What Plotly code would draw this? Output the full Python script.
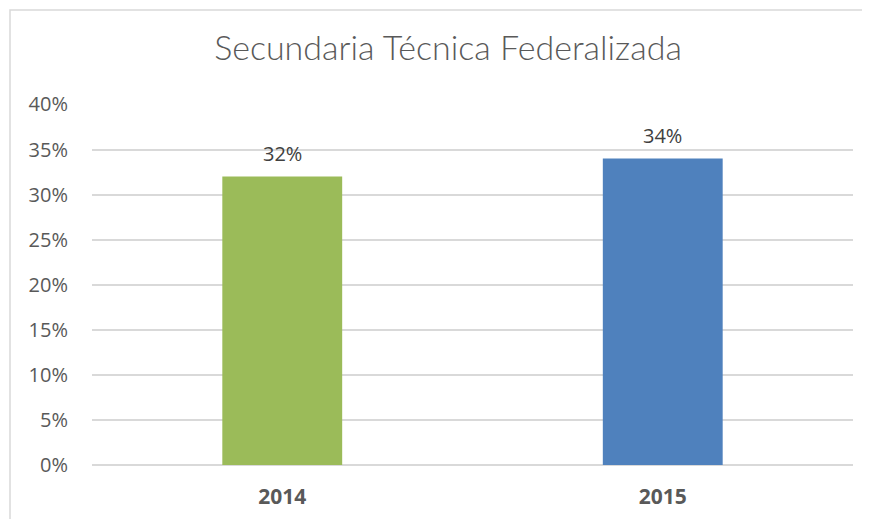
import plotly.graph_objects as go

categories = ["2014", "2015"]
values = [0.32, 0.34]
colors = ["#9BBB59", "#4F81BD"]
tick_vals = [0, 0.05, 0.10, 0.15, 0.20, 0.25, 0.30, 0.35, 0.40]
tick_text = ["0%", "5%", "10%", "15%", "20%", "25%", "30%", "35%", "40%"]
title_text = "Secundaria Técnica Federalizada"

# page body has an 8px margin, so the figure is sized/offset accordingly
W, H = 862, 511
L, R, T, B = 84, 17, 96, 54
pw, ph = W - L - R, H - T - B

fig = go.Figure(go.Bar(
    x=categories, y=values,
    marker=dict(color=colors, line=dict(width=0)),
    width=0.315,
    hoverinfo="x+y",
))

# data labels: positioned at each category index (category axis) and bar value
for i, v in enumerate(values):
    fig.add_annotation(x=i, y=v, text=f"{v:.0%}", showarrow=False,
                       yanchor="middle", yshift=23,
                       font=dict(family="Open Sans, sans-serif", size=20, color="#404040"))

fig.update_layout(
    width=W, height=H,
    margin=dict(l=L, r=R, t=T, b=B),
    paper_bgcolor="white", plot_bgcolor="white",
    showlegend=False,
    title=dict(text=title_text, x=440 / W, xanchor="center", y=1 - 40 / H, yanchor="middle",
               font=dict(family="Lato, sans-serif", size=34, color="#595959", weight=300)),
    xaxis=dict(type="category", range=[-0.5, len(categories) - 0.5], automargin=False,
               showgrid=False, showline=False, ticks="", ticklabelstandoff=17,
               tickfont=dict(family="Open Sans, sans-serif", size=21, color="#595959", weight="bold")),
    yaxis=dict(range=[0, 0.4005], tickvals=tick_vals, ticktext=tick_text, automargin=False,
               showgrid=True, gridcolor="#D9D9D9", gridwidth=1.8,
               zeroline=True, zerolinecolor="#D9D9D9", zerolinewidth=1.8,
               showline=False, ticks="", ticklabelstandoff=23,
               tickfont=dict(family="Open Sans, sans-serif", size=20, color="#595959")),
    shapes=[dict(type="rect", xref="paper", yref="paper",
                 x0=(2 - L) / pw, x1=(W + 20 - L) / pw,
                 y0=-(B + 20) / ph, y1=(H - B - 2) / ph,
                 line=dict(color="#D9D9D9", width=1.5), layer="below")],
)

fig.write_html("out.html")
